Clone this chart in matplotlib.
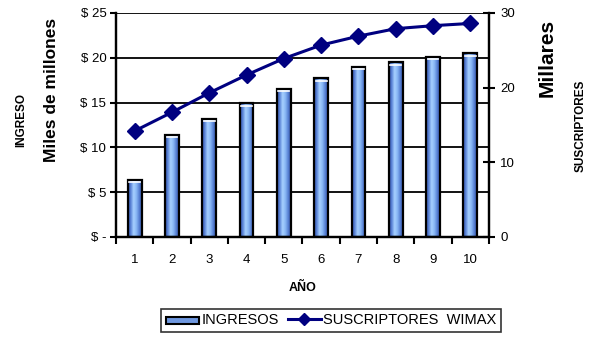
import numpy as np
import matplotlib.pyplot as plt
from matplotlib.colors import LinearSegmentedColormap
from matplotlib.patches import Rectangle
from matplotlib.lines import Line2D
from matplotlib.legend_handler import HandlerPatch

plt.rcParams['font.family'] = ['Liberation Sans', 'DejaVu Sans']

# datos
anios = [1, 2, 3, 4, 5, 6, 7, 8, 9, 10]
ingresos = [6.4, 11.4, 13.2, 14.9, 16.5, 17.7, 19.0, 19.5, 20.1, 20.5]      # miles de millones
suscriptores = [14.2, 16.7, 19.3, 21.7, 23.9, 25.7, 26.9, 27.9, 28.3, 28.6]  # millares
ticks_ingreso = [0, 5, 10, 15, 20, 25]
etiquetas_ingreso = ['$ -', '$ 5', '$ 10', '$ 15', '$ 20', '$ 25']
ticks_susc = [0, 10, 20, 30]

# degradado tipo cilindro para las barras
cmap_barra = LinearSegmentedColormap.from_list(
    'barra', ['#2f4fa8', '#5d86d8', '#a6d0ff', '#8ab8f5', '#5a84d6', '#3453ab'])
gradiente = np.linspace(0, 1, 64).reshape(1, -1)

fig = plt.figure(figsize=(6, 3.39), dpi=100)
ax = fig.add_axes([0.1933, 0.3009, 0.6217, 0.6608])
ax2 = ax.twinx()

ancho = 0.37

for x, v in zip(anios, ingresos):
    rect = Rectangle((x - ancho / 2, 0), ancho, v, facecolor='none',
                     edgecolor='black', linewidth=1.6, zorder=3)
    ax.add_patch(rect)
    img = ax.imshow(gradiente, cmap=cmap_barra, aspect='auto',
                    extent=(x - ancho / 2, x + ancho / 2, 0, v), zorder=2)
    img.set_clip_path(rect)
    # brillo blanco en el borde superior
    ax.plot([x - ancho / 2 + 0.04, x + ancho / 2 - 0.04], [v - 0.25, v - 0.25],
            color='white', linewidth=1.2, zorder=4)

ax.set_xlim(0.5, 10.5)
ax.set_ylim(0, 25)
ax2.set_ylim(0, 30)

# rejilla horizontal
for y in ticks_ingreso[1:]:
    ax.axhline(y, color='black', linewidth=1.3, zorder=1)

ax2.plot(anios, suscriptores, color='#000080', linewidth=2.2, marker='D',
         markersize=8, markerfacecolor='#000080', markeredgecolor='#000080', zorder=5)

ax.set_yticks(ticks_ingreso)
ax.set_yticklabels(etiquetas_ingreso, fontsize=9.5)
ax.set_xticks(anios)
ax.set_xticklabels([str(a) for a in anios], fontsize=9.5)
ax.set_xticks(np.arange(0.5, 11, 1), minor=True)
ax.tick_params(axis='x', which='major', length=0, pad=12)
ax.tick_params(axis='x', which='minor', length=5, width=1.5, direction='out')
ax.tick_params(axis='y', length=4, width=1.5, direction='out', pad=3)

ax2.set_yticks(ticks_susc)
ax2.set_yticklabels([str(t) for t in ticks_susc], fontsize=9.5)
ax2.tick_params(axis='y', length=8, width=1.5, direction='inout', pad=4)

for a in (ax, ax2):
    a.spines['top'].set_visible(False)
    a.spines['left'].set_linewidth(1.6)
    a.spines['right'].set_linewidth(1.6)
    a.spines['bottom'].set_linewidth(1.6)

ax.set_xlabel('AÑO', fontsize=9, fontweight='bold', labelpad=12)

# etiquetas de los ejes
fig.text(0.035, 0.645, 'INGRESO', rotation=90, ha='center', va='center',
         fontsize=8.5, fontweight='bold')
fig.text(0.085, 0.735, 'Miles de millones', rotation=90, ha='center', va='center',
         fontsize=12.5, fontweight='bold')
fig.text(0.912, 0.83, 'Millares', rotation=90, ha='center', va='center',
         fontsize=15, fontweight='bold')
fig.text(0.968, 0.63, 'SUSCRIPTORES', rotation=90, ha='center', va='center',
         fontsize=8.5, fontweight='bold')


class HandlerBarra(HandlerPatch):
    def create_artists(self, legend, orig_handle, xdescent, ydescent,
                       width, height, fontsize, trans):
        r = Rectangle((-xdescent, -ydescent + height * 0.05), width, height * 0.7,
                      facecolor='#6f98e0', edgecolor='black', linewidth=1.5,
                      transform=trans)
        return [r]


h_barra = Rectangle((0, 0), 1, 1)
h_linea = Line2D([], [], color='#000080', linewidth=2.2, marker='D',
                 markersize=6, markerfacecolor='#000080')
leg = fig.legend([h_barra, h_linea], ['INGRESOS', 'SUSCRIPTORES  WIMAX'],
                 handler_map={Rectangle: HandlerBarra()},
                 loc='center', bbox_to_anchor=(0.552, 0.055), ncol=2,
                 fontsize=10.5, frameon=True, fancybox=False, borderpad=0.3,
                 handlelength=2.3, handletextpad=0.15, columnspacing=0.6,
                 borderaxespad=0)
leg.get_frame().set_edgecolor('black')
leg.get_frame().set_linewidth(1.2)

fig.savefig('out.png', dpi=100)
